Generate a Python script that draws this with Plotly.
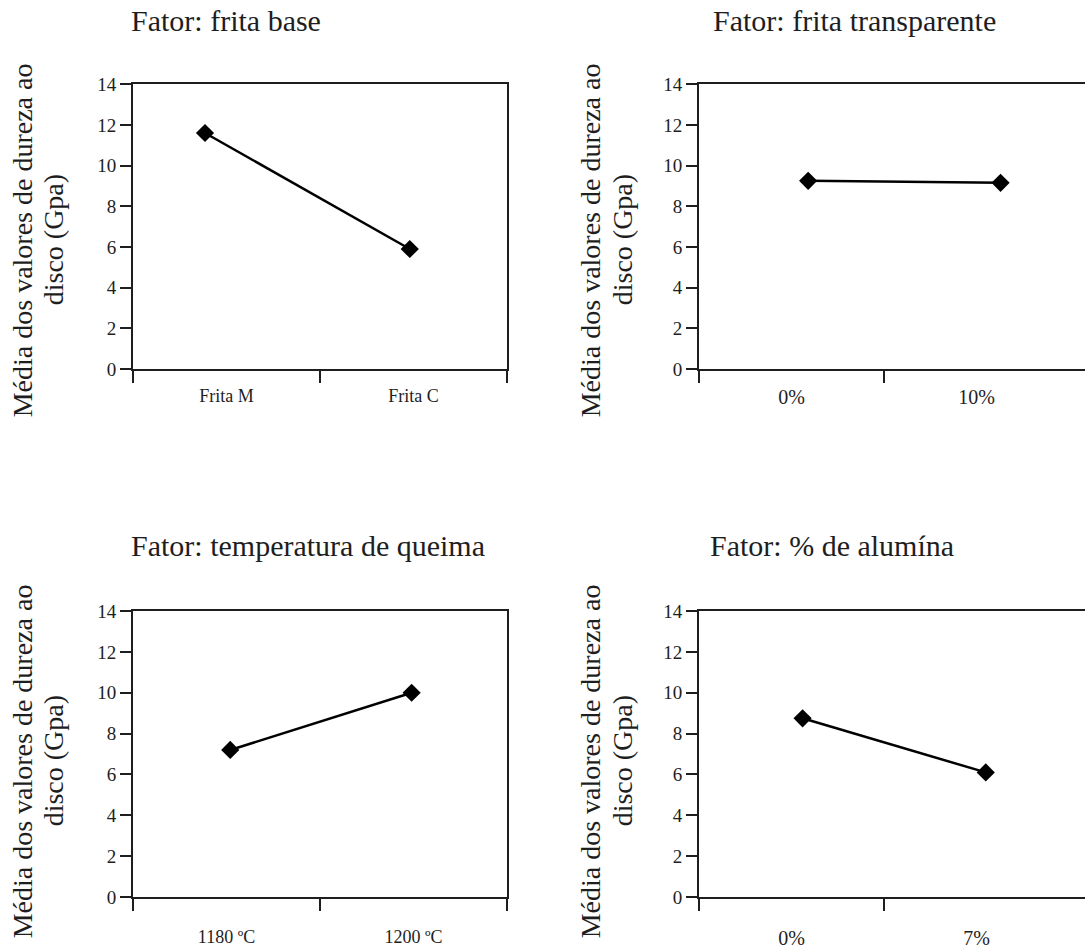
import plotly.graph_objects as go

W, H = 1085, 949

# ---- data ----
titles = ["Fator: frita base", "Fator: frita transparente",
          "Fator: temperatura de queima", "Fator: % de alumína"]
labels_base = ["Frita M", "Frita C"]
labels_transp = ["0%", "10%"]
labels_temp = ["1180 ºC", "1200 ºC"]
labels_alum = ["0%", "7%"]
xpos_base = [0.385, 1.48]
xpos_transp = [0.59, 1.63]
xpos_temp = [0.52, 1.49]
xpos_alum = [0.56, 1.55]
vals_base = [11.6, 5.9]
vals_transp = [9.25, 9.15]
vals_temp = [7.2, 10.0]
vals_alum = [8.75, 6.1]
y_ticks = [0, 2, 4, 6, 8, 10, 12, 14]
ytitle_1 = "Média dos valores de dureza ao"
ytitle_2 = "disco (Gpa)"

FONT = "Liberation Serif, Times New Roman, serif"
INK = "#1e1e1e"

panels = [
    dict(lab=labels_base, xp=xpos_base, v=vals_base, px=(133, 507), py=(76, 368), xr=[0, 2],
         right=False, lsize=18, so=9, mt=[0, 1, 2]),
    dict(lab=labels_transp, xp=xpos_transp, v=vals_transp, px=(699, 1085), py=(76, 368), xr=[0, 386 / 185],
         right=True, lsize=20, so=9, mt=[0, 1]),
    dict(lab=labels_temp, xp=xpos_temp, v=vals_temp, px=(133, 507), py=(616, 909), xr=[0, 2],
         right=False, lsize=18, so=22, mt=[0, 1, 2]),
    dict(lab=labels_alum, xp=xpos_alum, v=vals_alum, px=(699, 1085), py=(616, 909), xr=[0, 386 / 185],
         right=True, lsize=20, so=22, mt=[0, 1]),
]
title_pos = [(226, 11), (854, 11), (308, 549), (832, 549)]
ytitle_pos = [(22, 53, 236), (590, 622, 236), (22, 53, 770), (590, 622, 770)]

fig = go.Figure()
annotations = []
for i, p in enumerate(panels):
    n = i + 1
    xa = "x" if n == 1 else f"x{n}"
    ya = "y" if n == 1 else f"y{n}"
    fig.add_trace(go.Scatter(
        x=p["xp"], y=p["v"], xaxis=xa, yaxis=ya, mode="lines+markers",
        line=dict(color="black", width=2.5),
        marker=dict(symbol="diamond", size=14, color="black"),
        showlegend=False, hoverinfo="skip"))
    x0, x1 = p["px"]
    ytop, ybot = p["py"]
    fig.update_layout(**{
        ("xaxis" if n == 1 else f"xaxis{n}"): dict(
            domain=[x0 / W, min(x1 / W, 1.0)], anchor=ya, range=p["xr"],
            tickmode="array", tickvals=[0.5, 1.5], ticktext=p["lab"],
            ticks="", ticklabelstandoff=p["so"],
            tickfont=dict(family=FONT, size=p["lsize"], color=INK),
            minor=dict(tickmode="array", tickvals=p["mt"], ticks="outside",
                       ticklen=12, tickwidth=2, tickcolor=INK),
            showline=True, linecolor=INK, linewidth=2, mirror=True,
            showgrid=False, zeroline=False, fixedrange=True),
        ("yaxis" if n == 1 else f"yaxis{n}"): dict(
            domain=[1 - ybot / H, 1 - ytop / H], anchor=xa, range=[0, 14],
            tickmode="array", tickvals=y_ticks, ticks="outside", ticklen=11,
            tickwidth=2, tickcolor=INK,
            tickfont=dict(family=FONT, size=19, color=INK),
            showline=True, linecolor=INK, linewidth=2,
            mirror=(not p["right"]),
            showgrid=False, zeroline=False, fixedrange=True),
    })
    tx, ty = title_pos[i]
    annotations.append(dict(text=titles[i], x=tx / W, y=1 - ty / H, xref="paper", yref="paper",
                            xanchor="center", yanchor="middle", showarrow=False,
                            font=dict(family=FONT, size=30, color=INK)))
    l1x, l2x, yc = ytitle_pos[i]
    annotations.append(dict(text=ytitle_1, x=l1x / W, y=1 - yc / H, xref="paper", yref="paper",
                            xanchor="center", yanchor="middle", textangle=-90, showarrow=False,
                            font=dict(family=FONT, size=28, color=INK)))
    annotations.append(dict(text=ytitle_2, x=l2x / W, y=1 - yc / H, xref="paper", yref="paper",
                            xanchor="center", yanchor="middle", textangle=-90, showarrow=False,
                            font=dict(family=FONT, size=28, color=INK)))

fig.update_layout(width=W, height=H, margin=dict(l=0, r=0, t=0, b=0),
                  paper_bgcolor="white", plot_bgcolor="white",
                  annotations=annotations)
fig.write_html("out.html", config={"displayModeBar": False},
               post_script="document.body.style.margin='0';document.body.style.overflow='hidden';")
